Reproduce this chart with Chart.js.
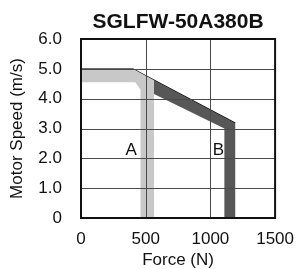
<!DOCTYPE html>
<html lang="en">
<head>
    <meta charset="UTF-8">
    <title>SGLFW-50A380B</title>
    <script src="https://cdn.jsdelivr.net/npm/chart.js"></script>
    <style>
        html, body { margin: 0; padding: 0; background: #fff; }
        #wrap { width: 297px; height: 269px; position: relative; }
    </style>
</head>
<body>
    <div id="wrap"><canvas id="chart" width="297" height="269"></canvas></div>

    <script>
        // Chart data
        const chartTitle = 'SGLFW-50A380B';
        const xTicks = [0, 500, 1000, 1500];
        const yTickLabels = ['0', '1.0', '2.0', '3.0', '4.0', '5.0', '6.0'];

        // Region A (light gray) outline
        const regionAForce = [0, 400, 564, 564, 460, 460, 420, 0, 0];
        const regionASpeed = [5.0, 5.0, 4.62, 0, 0, 4.3, 4.55, 4.55, 5.0];

        // Region B (dark gray) outline
        const regionBForce = [564, 1192, 1192, 1108, 1108, 564, 564];
        const regionBSpeed = [4.62, 3.18, 0, 0, 3.0, 4.16, 4.62];

        // Outer envelope line
        const envelopeForce = [0, 400, 1192];
        const envelopeSpeed = [5.0, 5.0, 3.18];

        // Region labels
        const regionLabels = ['A', 'B'];
        const labelForce = [388, 1062];
        const labelSpeed = [2.28, 2.28];

        const FONT = "'Liberation Sans', Arial, Helvetica, sans-serif";

        function toPoints(xs, ys) {
            return xs.map((x, i) => ({ x: x, y: ys[i] }));
        }

        // grid on top of the filled regions, like the original
        const gridOnTop = {
            id: 'gridOnTop',
            afterDatasetsDraw(chart) {
                const ctx = chart.ctx;
                const area = chart.chartArea;
                const xs = chart.scales.x;
                const ys = chart.scales.y;
                ctx.save();
                ctx.strokeStyle = '#4a4a4a';
                ctx.lineWidth = 1;
                ctx.beginPath();
                xs.ticks.forEach(t => {
                    const px = Math.round(xs.getPixelForValue(t.value)) + 0.5;
                    ctx.moveTo(px, area.top);
                    ctx.lineTo(px, area.bottom);
                });
                ys.ticks.forEach(t => {
                    const py = Math.round(ys.getPixelForValue(t.value)) + 0.5;
                    ctx.moveTo(area.left, py);
                    ctx.lineTo(area.right, py);
                });
                ctx.stroke();
                ctx.restore();
            }
        };

        // draws plot frame, region letters and title
        const decorations = {
            id: 'decorations',
            afterDraw(chart) {
                const ctx = chart.ctx;
                const area = chart.chartArea;
                const xs = chart.scales.x;
                const ys = chart.scales.y;
                ctx.save();
                ctx.strokeStyle = '#111';
                ctx.lineWidth = 2;
                ctx.strokeRect(area.left, area.top, area.right - area.left, area.bottom - area.top);

                ctx.fillStyle = '#111';
                ctx.font = '17px ' + FONT;
                ctx.textAlign = 'center';
                ctx.textBaseline = 'middle';
                regionLabels.forEach((t, i) => {
                    ctx.fillText(t, xs.getPixelForValue(labelForce[i]), ys.getPixelForValue(labelSpeed[i]));
                });

                ctx.font = 'bold 21px ' + FONT;
                ctx.textBaseline = 'alphabetic';
                ctx.fillText(chartTitle, (area.left + area.right) / 2, 28);
                ctx.restore();
            }
        };

        new Chart(document.getElementById('chart'), {
            type: 'scatter',
            data: {
                datasets: [
                    {
                        data: toPoints(regionAForce, regionASpeed),
                        showLine: true,
                        fill: 'shape',
                        backgroundColor: '#c8c8c8',
                        borderWidth: 0,
                        borderColor: 'rgba(0,0,0,0)',
                        pointRadius: 0,
                        tension: 0
                    },
                    {
                        data: toPoints(regionBForce, regionBSpeed),
                        showLine: true,
                        fill: 'shape',
                        backgroundColor: '#575757',
                        borderWidth: 0,
                        borderColor: 'rgba(0,0,0,0)',
                        pointRadius: 0,
                        tension: 0
                    },
                    {
                        data: toPoints(envelopeForce, envelopeSpeed),
                        showLine: true,
                        fill: false,
                        borderColor: '#111',
                        borderWidth: 1.2,
                        pointRadius: 0,
                        tension: 0
                    }
                ]
            },
            options: {
                responsive: false,
                animation: false,
                layout: { padding: { top: 39, right: 21, left: 0, bottom: 0 } },
                plugins: {
                    legend: { display: false },
                    tooltip: { enabled: false },
                    title: { display: false }
                },
                scales: {
                    x: {
                        type: 'linear',
                        min: 0,
                        max: 1500,
                        afterFit: (s) => { s.height = 51; },
                        afterBuildTicks: (s) => { s.ticks = xTicks.map(v => ({ value: v })); },
                        ticks: {
                            color: '#111',
                            font: { family: FONT, size: 17 },
                            padding: 3,
                            maxRotation: 0,
                            callback: (v) => String(v)
                        },
                        grid: { display: false },
                        border: { display: false },
                        title: {
                            display: true,
                            text: 'Force (N)',
                            color: '#111',
                            font: { family: FONT, size: 17, lineHeight: 1 },
                            padding: { top: 0, bottom: 0 }
                        }
                    },
                    y: {
                        type: 'linear',
                        min: 0,
                        max: 6,
                        afterFit: (s) => { s.width = 81; },
                        ticks: {
                            stepSize: 1,
                            color: '#111',
                            font: { family: FONT, size: 17 },
                            padding: 11,
                            callback: (v, i) => yTickLabels[i]
                        },
                        grid: { display: false },
                        border: { display: false },
                        title: {
                            display: true,
                            text: 'Motor Speed (m/s)',
                            color: '#111',
                            font: { family: FONT, size: 17 },
                            padding: { top: 7, bottom: 0 }
                        }
                    }
                }
            },
            plugins: [gridOnTop, decorations]
        });
    </script>
</body>
</html>
